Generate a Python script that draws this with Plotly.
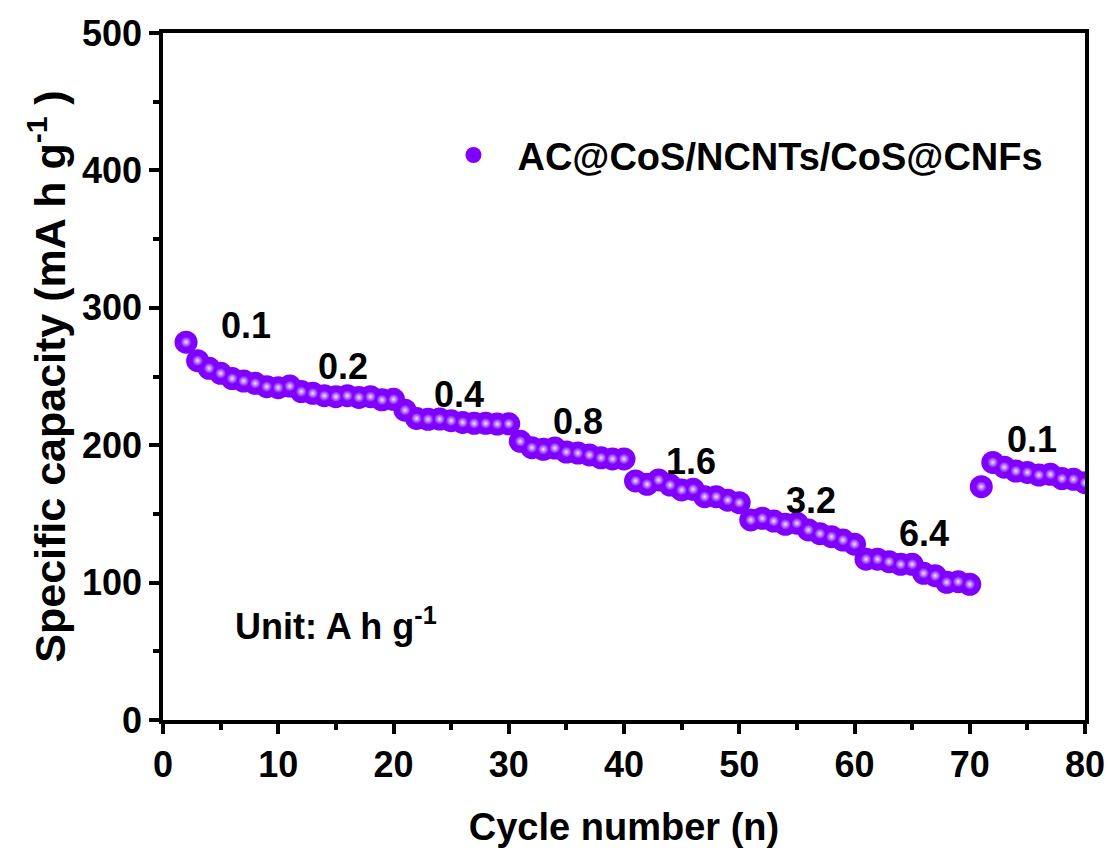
import plotly.graph_objects as go

# ---- data ----
cycles = list(range(2, 81))
capacity = [
    275.0, 261.5, 256.0, 252.3, 248.5, 246.7, 245.0, 242.6, 241.9, 243.0,   # 2-11
    239.0, 237.8, 236.0, 235.3, 236.0, 234.8, 235.3, 233.0, 233.4,          # 12-20
    225.5, 219.5, 218.8, 219.0, 217.8, 216.6, 215.9, 215.9, 215.4, 215.6,   # 21-30
    202.8, 198.2, 197.0, 197.9, 195.0, 194.3, 192.9, 190.8, 190.0, 190.0,   # 31-40
    174.0, 171.5, 174.7, 171.0, 167.4, 167.9, 162.5, 162.5, 160.0, 158.2,   # 41-50
    145.6, 146.8, 144.8, 142.4, 143.2, 138.3, 135.6, 133.4, 131.0, 128.0,   # 51-60
    117.0, 117.0, 115.2, 113.3, 113.3, 106.8, 105.0, 100.2, 100.7, 98.8,    # 61-70
    169.8, 187.5, 184.0, 181.2, 180.2, 178.3, 178.8, 175.7, 175.2, 172.7,   # 71-80
]
series_name = "AC@CoS/NCNTs/CoS@CNFs"
rate_labels = ["0.1", "0.2", "0.4", "0.8", "1.6", "3.2", "6.4", "0.1"]

# label placement (layout positions, data coordinates)
label_x = [7.2, 15.6, 25.7, 36.0, 45.8, 56.2, 66.0, 75.4]
label_y = [287, 257, 237, 217, 188, 160, 136, 204]

FONT = "Liberation Sans, Arial, sans-serif"
PURPLE = "#7f00ff"

fig = go.Figure()
fig.add_trace(go.Scatter(
    x=cycles, y=capacity, mode="markers", name=series_name,
    marker=dict(size=23, color=PURPLE, line=dict(width=0)),
))
# specular highlight on each sphere
fig.add_trace(go.Scatter(
    x=cycles, y=capacity, mode="markers", showlegend=False, hoverinfo="skip",
    marker=dict(size=11, color=PURPLE, line=dict(width=0),
                gradient=dict(type="radial", color="#efe4ff")),
))

for t, lx, ly in zip(rate_labels, label_x, label_y):
    fig.add_annotation(x=lx, y=ly, text=t, showarrow=False,
                       font=dict(family=FONT, size=36, color="black", weight="bold"))

fig.add_annotation(x=15.0, y=70, text="Unit: A h g<sup>-1</sup>", showarrow=False,
                   font=dict(family=FONT, size=36, color="black", weight="bold"))

axis_common = dict(
    showline=True, linecolor="black", linewidth=3.5, mirror=True,
    ticks="outside", ticklen=10, tickwidth=3.5, tickcolor="black",
    showgrid=False, zeroline=False, automargin=False,
    tickfont=dict(family=FONT, size=36, color="black", weight="bold"),
)

fig.update_xaxes(
    range=[0, 80], dtick=10, tick0=0,
    minor=dict(ticks="outside", ticklen=6, tickwidth=3.5, tickcolor="black", dtick=5),
    title=dict(text="Cycle number (n)", standoff=32,
               font=dict(family=FONT, size=38, color="black", weight="bold")),
    **axis_common,
)
fig.update_yaxes(
    range=[0, 500], dtick=100, tick0=0,
    minor=dict(ticks="outside", ticklen=6, tickwidth=3.5, tickcolor="black", dtick=50),
    title=dict(text="Specific capacity (mA h g<sup>-1</sup> )", standoff=4,
               font=dict(family=FONT, size=43, color="black", weight="bold")),
    **axis_common,
)

fig.update_layout(
    width=1108, height=848,
    margin=dict(l=163, r=23, t=33, b=128),
    plot_bgcolor="white", paper_bgcolor="white",
    showlegend=True,
    legend=dict(x=0.289, y=0.822, xanchor="left", yanchor="middle",
                itemwidth=78,
                bgcolor="rgba(0,0,0,0)",
                font=dict(family=FONT, size=38, color="black", weight="bold")),
)

fig.write_html("out.html")
